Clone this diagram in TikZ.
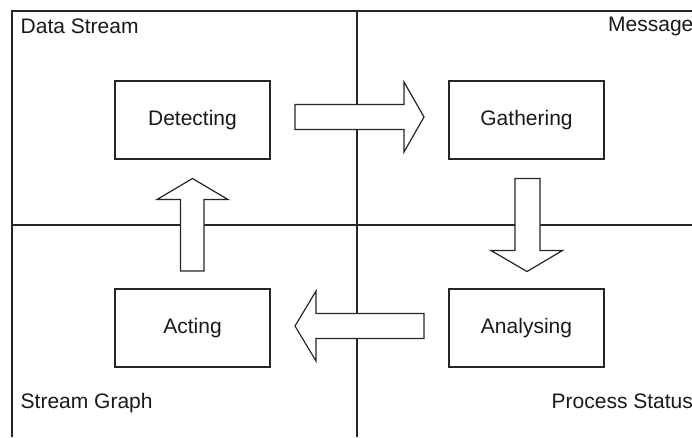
\documentclass[tikz,border=0pt]{standalone}
\usepackage{fontspec}
\setmainfont{Liberation Sans}
\begin{document}
\begin{tikzpicture}[x=1pt,y=-1pt,
  ink/.style={black!85},
  frameline/.style={ink,line width=1.7pt},
  stagebox/.style={draw,ink,line width=1.4pt,minimum width=155pt,minimum height=78pt,
    inner sep=0pt,text=black!90,font=\fontsize{21}{25}\selectfont},
  zonelabel/.style={inner sep=0pt,text=black!90,font=\fontsize{21}{25}\selectfont},
  blockarrow/.style={draw,ink,fill=white,line width=1.2pt,line join=miter}]
\useasboundingbox (0,0) rectangle (692,437);

% quadrant frame
\coordinate (tl) at (12,11);
\coordinate (tr) at (692,11);
\coordinate (bl) at (12,437);
\coordinate (mt) at (357,11);
\coordinate (mb) at (357,437);
\coordinate (ml) at (12,225);
\coordinate (mr) at (692,225);
\draw[frameline] (bl) -- (tl) -- (tr);
\draw[frameline] (mt) -- (mb);
\draw[frameline] (ml) -- (mr);

% zone labels
\node[zonelabel,anchor=base west] (ds) at (20.5,33) {Data Stream};
\node[zonelabel,anchor=base west] (msg) at (608,31) {Message};
\node[zonelabel,anchor=base west] (sg) at (20.5,408) {Stream Graph};
\node[zonelabel,anchor=base west] (ps) at (551.5,408) {Process Status};

% stages
\node[stagebox] (detect) at (192.5,120) {Detecting};
\node[stagebox] (gather) at (526.5,120) {Gathering};
\node[stagebox] (act) at (192.5,328) {Acting};
\node[stagebox] (analyse) at (526.5,328) {Analysing};

% block arrows between the stages
% Detecting -> Gathering
\draw[blockarrow] (295,104.5) -- (404,104.5) -- (404,82) -- (424,117) -- (404,152)
  -- (404,129.5) -- (295,129.5) -- cycle;
% Gathering -> Analysing
\draw[blockarrow] (515,178.5) -- (540,178.5) -- (540,250.5) -- (562.5,250.5) -- (527,271.5)
  -- (491,250.5) -- (515,250.5) -- cycle;
% Analysing -> Acting
\draw[blockarrow] (424,313.5) -- (316,313.5) -- (316,291) -- (295,326) -- (316,361)
  -- (316,338.5) -- (424,338.5) -- cycle;
% Acting -> Detecting
\draw[blockarrow] (180.5,271) -- (204,271) -- (204,199.5) -- (228,199.5) -- (192.5,178.5)
  -- (157,199.5) -- (180.5,199.5) -- cycle;
\end{tikzpicture}
\end{document}
